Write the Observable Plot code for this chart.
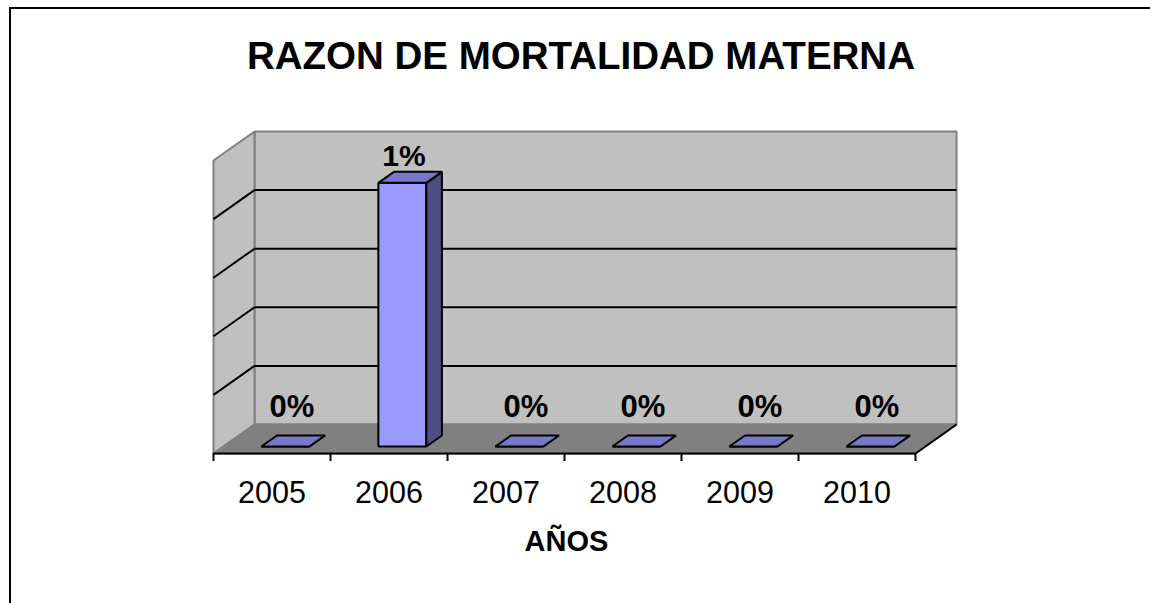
<!DOCTYPE html>
<html><head><meta charset="utf-8">
<script src="https://cdn.jsdelivr.net/npm/d3@7"></script>
<script src="https://cdn.jsdelivr.net/npm/@observablehq/plot@0.6"></script>
<style>
body{margin:0;background:#fff;font-family:"Liberation Sans",Arial,sans-serif;}
#wrap{position:relative;width:1150px;height:603px;overflow:hidden;background:#fff;}
#chart{position:absolute;left:0;top:0;}
#border{position:absolute;left:9px;top:7px;width:1300px;height:800px;border:2px solid #000;}
#title{position:absolute;left:0;top:37px;width:1162px;text-align:center;font-weight:bold;font-size:38.5px;line-height:38.5px;color:#000;}
</style></head><body>
<div id="wrap"><div id="chart"></div><div id="border"></div><div id="title"></div></div>
<script>
// ---- data ----
const titleText = "RAZON DE MORTALIDAD MATERNA";
const xTitle = "AÑOS";
const years = [2005, 2006, 2007, 2008, 2009, 2010];
const rates = [0, 0.9, 0, 0, 0, 0]; // percent
const gridValues = [0.2, 0.4, 0.6, 0.8];
const yMax = 1;

// ---- geometry of the 3D box (oblique projection) ----
const x0 = years[0] - 0.5, x1 = years[years.length - 1] + 0.5;
const DX = 41 / 117, DY = 29 / 293;       // depth offset in data units
const P = (x, y, d) => ({x: x - d * DX, y: y - d * DY});
function poly(id, corners, closed = true) {
  const pts = corners.map(([x, y, d]) => ({id, ...P(x, y, d)}));
  if (closed) pts.push({...pts[0]});
  return pts;
}

const backWall = poly("back", [[x0,0,0],[x1,0,0],[x1,yMax,0],[x0,yMax,0]]);
const leftWall = poly("left", [[x0,0,0],[x0,yMax,0],[x0,yMax,1],[x0,0,1]]);
const floor = poly("floor", [[x0,0,0],[x1,0,0],[x1,0,1],[x0,0,1]]);
const floorEdge = poly("edge", [[x0,0,1],[x1,0,1],[x1,0,0]], false);
const gridBack = gridValues.flatMap(g => poly("gb" + g, [[x0,g,0],[x1,g,0]], false));
const gridLeft = gridValues.flatMap(g => poly("gl" + g, [[x0,g,0],[x0,g,1]], false));

const dFront = 0.76, dBack = 0.38, wL = 0.175, wR = 0.235;
const fronts = [], sides = [], tops = [];
years.forEach((yr, i) => {
  const v = rates[i], a = yr - wL, b = yr + wR;
  fronts.push(...poly("f" + yr, [[a,0,dFront],[b,0,dFront],[b,v,dFront],[a,v,dFront]]));
  sides.push(...poly("s" + yr, [[b,0,dFront],[b,0,dBack],[b,v,dBack],[b,v,dFront]]));
  tops.push(...poly("t" + yr, [[a,v,dFront],[b,v,dFront],[b,v,dBack],[a,v,dBack]]));
});
const data = years.map((year, i) => ({year, v: rates[i]}));
const boundaries = d3.range(years.length + 1).map(i => x0 + i);
const fmt = v => d3.format(".0%")(v / 100);

const face = (pts, fill, stroke, sw) => Plot.line(pts, {x: "x", y: "y", z: "id", fill, stroke, strokeWidth: sw, strokeLinejoin: "miter", strokeLinecap: "butt"});

const chart = Plot.plot({
  width: 1150, height: 603, margin: 0,
  x: {domain: [x0, x1], range: [254, 956], axis: null},
  y: {domain: [0, yMax], range: [424, 131], axis: null},
  style: {fontFamily: "Liberation Sans, Arial, sans-serif", background: "transparent", color: "#000"},
  marks: [
    face(backWall, "#c0c0c0", "#808080", 2),
    face(leftWall, "#c0c0c0", "#808080", 2),
    face(floor, "#808080", "#808080", 2),
    face(gridBack, "none", "#000", 2),
    face(gridLeft, "none", "#000", 2),
    face(floorEdge, "none", "#000", 2),
    Plot.ruleX(boundaries, {x: b => b - DX, y1: -DY, y2: -DY - 8 / 293, stroke: "#000", strokeWidth: 2}),
    face(fronts, "#9999ff", "#000", 2),
    face(sides, "#4d4d80", "#000", 2),
    face(tops, "#7878c8", "#000", 2),
    Plot.text(data.filter(d => d.v > 0), {x: "year", y: "v", text: d => fmt(d.v), dx: -26, dy: 5, lineAnchor: "bottom", fontSize: 30, fontWeight: "bold"}),
    Plot.text(data.filter(d => !(d.v > 0)), {x: "year", y: "v", text: d => fmt(d.v), dx: -21, dy: -8, lineAnchor: "bottom", fontSize: 31, fontWeight: "bold"}),
    Plot.text(years, {x: d => d - DX, y: -DY, dy: 49, text: d => String(d), lineAnchor: "bottom", fontSize: 30.5}),
    Plot.text([xTitle], {x: (x0 + x1) / 2 - DX, y: -DY, dx: 2, dy: 97, text: d => d, lineAnchor: "bottom", fontSize: 29, fontWeight: "bold"})
  ]
});
document.getElementById("chart").appendChild(chart);
document.getElementById("title").textContent = titleText;
</script>
</body></html>
